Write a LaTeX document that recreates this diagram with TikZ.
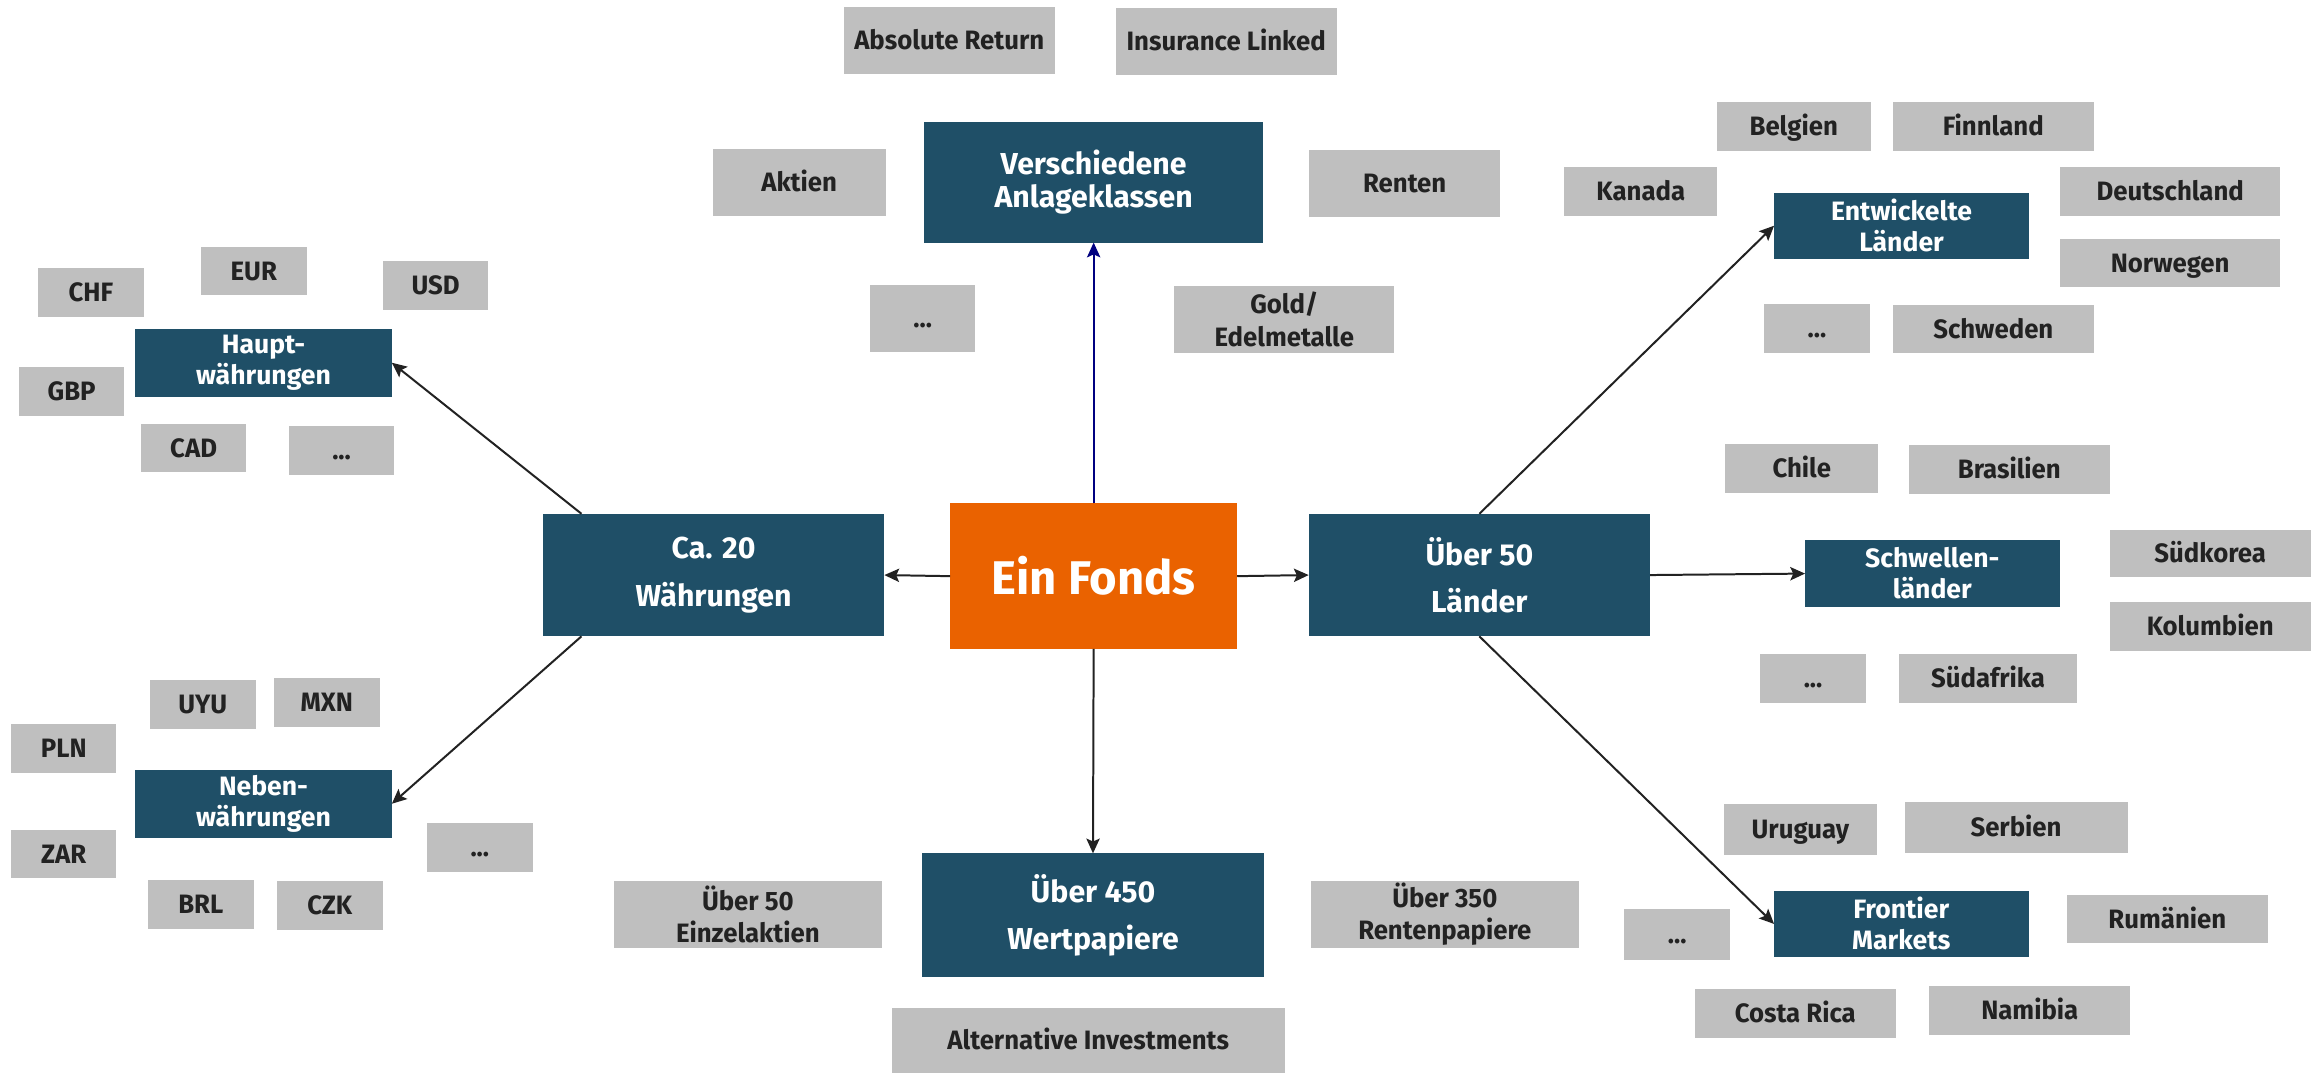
\documentclass[tikz,border=0pt]{standalone}
\usepackage{fontspec}
\setmainfont{Fira Sans}
\newfontfamily\greyfont{Fira Sans}[FakeStretch=0.97]
\usetikzlibrary{calc,arrows.meta}
\definecolor{fteal}{RGB}{31,79,103}
\definecolor{forange}{RGB}{234,98,0}
\definecolor{fgray}{RGB}{191,191,191}
\definecolor{ftext}{RGB}{34,34,34}
\definecolor{farrow}{RGB}{34,34,34}
\definecolor{fnavy}{RGB}{0,0,128}
\newcommand\mybox[7]{\node[#1, minimum width={#4-#2}, minimum height={#5-#3}] (#6) at ({(#2+#4)/2},{(#3+#5)/2}) {#7};}
\tikzset{
  bx/.style={inner sep=0pt, outer sep=0pt, anchor=center},
  grey/.style={bx, fill=fgray, text=ftext, font=\greyfont\fontsize{18}{22}\selectfont\bfseries, align=center},
  grey1/.style={grey, text height=12.5pt, text depth=0pt},
  mainbox/.style={bx, fill=fteal, text=white, font=\fontsize{20.5}{32}\selectfont\bfseries, align=center},
  subbox/.style={bx, fill=fteal, text=white, font=\fontsize{18}{21}\selectfont\bfseries, align=center},
  fondsbox/.style={bx, fill=forange, text=white, font=\fontsize{32}{36}\selectfont\bfseries},
  conn/.style={draw=farrow, line width=1.35pt, -{Stealth[length=10pt,width=9pt,inset=2pt]}}
}
\begin{document}
\begin{tikzpicture}[x=1pt,y=-1pt]
\useasboundingbox (0,0) rectangle (1568,727);
\fill[white] (0,0) rectangle (1568,727);
% central
\mybox{fondsbox}{643.5}{341}{838}{439.5}{fonds}{Ein Fonds}
\mybox{mainbox, font=\fontsize{20.5}{22}\selectfont\bfseries}{626}{82.5}{855.5}{164.3}{anlage}{Verschiedene\\Anlageklassen}
\mybox{mainbox}{367.7}{348}{599}{431}{waehr}{Ca. 20\\Währungen}
\mybox{mainbox}{886.4}{348}{1117.6}{431}{laender}{Über 50\\Länder}
\mybox{mainbox}{624.6}{578}{856}{661.5}{wert}{Über 450\\Wertpapiere}
% sub
\mybox{subbox}{91.6}{222.7}{265.4}{268.7}{haupt}{Haupt-\\währungen}
\mybox{subbox}{91.6}{521.5}{265.4}{567.3}{neben}{Neben-\\währungen}
\mybox{subbox}{1201.6}{130.6}{1374.3}{175.2}{entw}{Entwickelte\\Länder}
\mybox{subbox}{1222.6}{366}{1395}{411}{schw}{Schwellen-\\länder}
\mybox{subbox}{1201.6}{603.6}{1374}{648}{front}{Frontier\\Markets}
% asset classes
\mybox{grey1}{571.6}{4.7}{714.3}{49.9}{absret}{Absolute Return}
\mybox{grey1}{755.7}{5.4}{905.4}{50.6}{insur}{Insurance Linked}
\mybox{grey1}{482.7}{101}{599.9}{146}{aktien}{Aktien}
\mybox{grey1}{886.6}{101.7}{1016.3}{146.7}{renten}{Renten}
\mybox{grey1}{589.2}{193.1}{660.7}{238.2}{dotsa}{...}
\mybox{grey}{795.3}{193.6}{944.5}{238.9}{gold}{Gold/\\Edelmetalle}
% main currencies
\mybox{grey1}{25.6}{181.5}{97.5}{214.4}{chf}{CHF}
\mybox{grey1}{136.1}{167.2}{207.7}{200}{eur}{EUR}
\mybox{grey1}{259.5}{176.8}{330.7}{209.7}{usd}{USD}
\mybox{grey1}{12.8}{248.7}{84.3}{281.6}{gbp}{GBP}
\mybox{grey1}{95.4}{287.2}{166.9}{320}{cad}{CAD}
\mybox{grey1}{195.6}{288.6}{267.1}{321.5}{dotsb}{...}
% minor currencies
\mybox{grey1}{101.6}{460.6}{173.1}{493.6}{uyu}{UYU}
\mybox{grey1}{185.6}{459.2}{257.1}{492.2}{mxn}{MXN}
\mybox{grey1}{7.6}{490.3}{78.8}{523.4}{pln}{PLN}
\mybox{grey1}{7.6}{562.1}{78.8}{595}{zar}{ZAR}
\mybox{grey1}{100.2}{596}{171.8}{629}{brl}{BRL}
\mybox{grey1}{187.6}{596.7}{259.2}{629.6}{czk}{CZK}
\mybox{grey1}{289.2}{557.4}{360.8}{590.5}{dotsc}{...}
% securities
\mybox{grey}{415.7}{596.7}{597.4}{641.8}{einzel}{Über 50\\Einzelaktien}
\mybox{grey}{888}{596.7}{1069.2}{641.8}{rentenp}{Über 350\\Rentenpapiere}
\mybox{grey1}{604}{682.7}{870.2}{727}{altinv}{Alternative Investments}
% developed
\mybox{grey1}{1162.9}{69}{1267}{102}{belgien}{Belgien}
\mybox{grey1}{1282.2}{69}{1418}{102}{finnland}{Finnland}
\mybox{grey1}{1059.5}{113.4}{1163.2}{146}{kanada}{Kanada}
\mybox{grey1}{1395.2}{113.4}{1544.6}{146}{deutsch}{Deutschland}
\mybox{grey1}{1395.2}{161.9}{1544.6}{194.5}{norwegen}{Norwegen}
\mybox{grey1}{1195}{206}{1266.3}{238.9}{dotsd}{...}
\mybox{grey1}{1282.2}{206.7}{1418}{239.4}{schweden}{Schweden}
% emerging
\mybox{grey1}{1168.4}{300.7}{1272.3}{333.8}{chile}{Chile}
\mybox{grey1}{1293}{301.4}{1428.9}{334.3}{brasil}{Brasilien}
\mybox{grey1}{1429}{359}{1565}{391}{suedkorea}{Südkorea}
\mybox{grey1}{1429}{408}{1565}{440.6}{kolumb}{Kolumbien}
\mybox{grey1}{1192}{443}{1264}{476}{dotse}{...}
\mybox{grey1}{1286}{443}{1407}{476}{suedafr}{Südafrika}
% frontier
\mybox{grey1}{1168}{544.6}{1271}{578.8}{uruguay}{Uruguay}
\mybox{grey1}{1290}{543}{1441}{578}{serbien}{Serbien}
\mybox{grey1}{1100}{616}{1172}{650}{dotsf}{...}
\mybox{grey1}{1400}{606}{1536}{639}{rumaen}{Rumänien}
\mybox{grey1}{1148}{670}{1284}{703}{costa}{Costa Rica}
\mybox{grey1}{1306.6}{668}{1443}{700.7}{namibia}{Namibia}
% connectors
\draw[conn, draw=fnavy] (fonds.north) -- (anlage.south);
\draw[conn] (fonds.west) -- (waehr.east);
\draw[conn] (fonds.east) -- (laender.west);
\draw[conn] (fonds.south) -- (wert.north);
\draw[conn] ($(waehr.north west)!0.113!(waehr.north east)$) -- (haupt.east);
\draw[conn] ($(waehr.south west)!0.113!(waehr.south east)$) -- (neben.east);
\draw[conn] (laender.north) -- (entw.west);
\draw[conn] (laender.east) -- (schw.west);
\draw[conn] (laender.south) -- (front.west);
\end{tikzpicture}
\end{document}
